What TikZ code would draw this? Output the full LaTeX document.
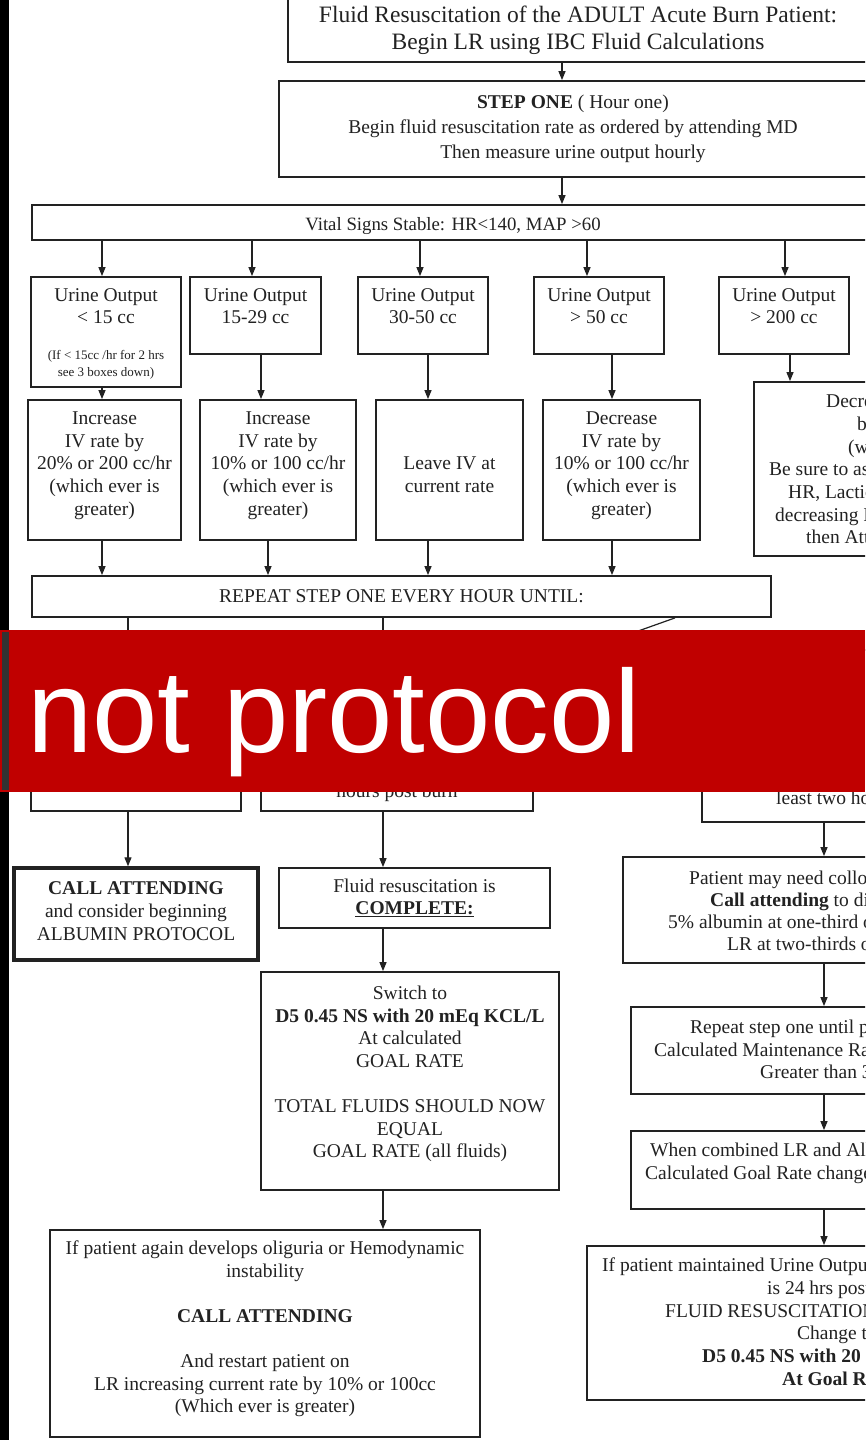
\documentclass[tikz,border=0pt]{standalone}
\usepackage{fontspec}
\setmainfont{Liberation Serif}
\newfontfamily\bannerfont{Liberation Sans}
\usetikzlibrary{arrows.meta,positioning}
\definecolor{bannerred}{HTML}{C00000}
\definecolor{ink}{HTML}{222222}

\tikzset{
  block/.style={draw=ink, line width=1.8pt, align=center, inner sep=2pt, text=ink,
    font=\fontsize{19.5}{22.6}\selectfont},
  thickblock/.style={block, line width=3.4pt},
  flow/.style={draw=ink, line width=1.2pt, -{Triangle[length=9pt,width=7pt]}},
  cut/.style={anchor=base west, inner sep=0pt, text=ink, font=\fontsize{19.5}{22.6}\selectfont},
  note/.style={align=center, inner sep=0pt, text=ink, font=\fontsize{13}{17}\selectfont},
}

\begin{document}
\begin{tikzpicture}[x=1pt, y=-1pt]
\useasboundingbox (0,0) rectangle (865,1440);
\clip (0,0) rectangle (865,1440);
\fill[white] (0,0) rectangle (865,1440);
\fill[black] (0,0) rectangle (9,1440);

% top of the chart
\node[block, minimum width=580pt, minimum height=68pt, text depth=1pt, font=\fontsize{23.5}{27}\selectfont] (title) at (578,28)
  {Fluid Resuscitation of the ADULT Acute Burn Patient:\\Begin LR using IBC Fluid Calculations};
\node[block, minimum width=588pt, minimum height=96pt, font=\fontsize{19.5}{25}\selectfont] (stepone) at (573,129)
  {\textbf{STEP ONE} ( Hour one)\\Begin fluid resuscitation rate as ordered by attending MD\\Then measure urine output hourly};
\node[block, minimum width=842pt, minimum height=35pt, text height=21pt, font=\fontsize{18.8}{22}\selectfont] (vital) at (453,222.5)
  {Vital Signs Stable: HR<140, MAP >60};

% urine output row
\node[block, minimum width=150pt, minimum height=110pt, text depth=52pt] (u1) at (106,332) {Urine Output\\< 15 cc};
\node[note] (u1note) at (106,364.5) {(If < 15cc /hr for 2 hrs\\see 3 boxes down)};
\node[block, minimum width=131pt, minimum height=77pt, text depth=19pt] (u2) at (255.5,315.5) {Urine Output\\15-29 cc};
\node[block, minimum width=130pt, minimum height=77pt, text depth=19pt] (u3) at (423,315.5) {Urine Output\\30-50 cc};
\node[block, minimum width=130pt, minimum height=77pt, text depth=19pt] (u4) at (599,315.5) {Urine Output\\> 50 cc};
\node[block, minimum width=130pt, minimum height=77pt, text depth=19pt] (u5) at (784,315.5) {Urine Output\\> 200 cc};

% rate changes
\node[block, minimum width=153pt, minimum height=140pt, text depth=13pt] (a1) at (104.5,470)
  {Increase\\IV rate by\\20\% or 200 cc/hr\\(which ever is\\greater)};
\node[block, minimum width=156pt, minimum height=140pt, text depth=13pt] (a2) at (278,470)
  {Increase\\IV rate by\\10\% or 100 cc/hr\\(which ever is\\greater)};
\node[block, minimum width=147pt, minimum height=140pt, text height=45pt] (a3) at (449.5,470) {Leave IV at\\current rate};
\node[block, minimum width=157pt, minimum height=140pt, text depth=13pt] (a4) at (621.5,470)
  {Decrease\\IV rate by\\10\% or 100 cc/hr\\(which ever is\\greater)};
\node[block, minimum width=126pt, minimum height=174pt] (a5) at (817,469) {};

\node[block, minimum width=739pt, minimum height=41pt] (repeat) at (401.5,596.5) {REPEAT STEP ONE EVERY HOUR UNTIL:};

% lower part
\node[block, minimum width=210pt, minimum height=161pt] (b1) at (136,730.5) {};
\node[block, minimum width=272pt, minimum height=161pt] (b2) at (397,730.5) {};
\node[anchor=base, inner sep=0pt, text=ink, font=\fontsize{19.5}{22.6}\selectfont] (b2text) at (397,797) {hours post burn};
\node[block, minimum width=178pt, minimum height=172pt] (b3) at (791,736) {};

\node[thickblock, minimum width=244pt, minimum height=92pt, text depth=6pt] (c1) at (136,914)
  {\textbf{CALL ATTENDING}\\and consider beginning\\ALBUMIN PROTOCOL};
\node[block, minimum width=271pt, minimum height=60pt] (c2) at (414.5,898)
  {Fluid resuscitation is\\\underline{\textbf{COMPLETE:}}};
\node[block, minimum width=257pt, minimum height=106pt] (c3) at (751.5,910) {};

\node[block, minimum width=298pt, minimum height=218pt, text depth=18pt] (d2) at (410,1081)
  {Switch to\\\textbf{D5 0.45 NS with 20 mEq KCL/L}\\At calculated\\GOAL RATE\\[22.6pt]TOTAL FLUIDS SHOULD NOW\\EQUAL\\GOAL RATE (all fluids)};
\node[block, minimum width=249pt, minimum height=87pt] (d3) at (755.5,1050.5) {};

\node[block, minimum width=430pt, minimum height=207pt, text depth=13pt] (e2) at (265,1333.5)
  {If patient again develops oliguria or Hemodynamic\\instability\\[22.6pt]\textbf{CALL ATTENDING}\\[22.6pt]And restart patient on\\LR increasing current rate by 10\% or 100cc\\(Which ever is greater)};
\node[block, minimum width=249pt, minimum height=78pt] (e3) at (755.5,1170) {};
\node[block, minimum width=293pt, minimum height=154pt] (f3) at (733.5,1323) {};

% text of the boxes cut by the right edge
\foreach \tx/\ty/\cuttext [count=\i] in {826/407/Decrease, 857/430/by, 848/453/(which,
    769/475/Be sure to assess, 788/498/{HR, Lactic}, 775/521/decreasing IV, 806/543/then Attending,
    776/804/least two hours,
    689/884/Patient may need colloid, 710/906/\textbf{Call attending} to discuss,
    668/928/5\% albumin at one-third of, 727/950/LR at two-thirds of,
    690/1033/Repeat step one until patient, 654/1056/Calculated Maintenance Rate, 760/1078/Greater than 30,
    650/1156/When combined LR and Albumin, 645/1179/Calculated Goal Rate changes,
    602/1271/If patient maintained Urine Output, 767/1294/is 24 hrs post burn, 665/1317/FLUID RESUSCITATION,
    797/1339/Change to, 702/1362/\textbf{D5 0.45 NS with 20 mEq}, 782/1385/\textbf{At Goal Rate}}
  \node[cut] (cut\i) at (\tx,\ty) {\cuttext};

% connectors
\draw[flow] (562,0 |- title.south) -- (562,0 |- stepone.north);
\draw[flow] (562,0 |- stepone.south) -- (562,0 |- vital.north);
\foreach \u/\ax in {u1/102, u2/252, u3/420, u4/587, u5/785}
  \draw[flow] (\ax,0 |- vital.south) -- (\ax,0 |- \u.north);
\foreach \u/\a/\ax in {u1/a1/102, u2/a2/261, u3/a3/428, u4/a4/612, u5/a5/790}
  \draw[flow] (\ax,0 |- \u.south) -- (\ax,0 |- \a.north);
\foreach \a/\ax in {a1/102, a2/268, a3/428, a4/612}
  \draw[flow] (\ax,0 |- \a.south) -- (\ax,0 |- repeat.north);
\draw[flow] (128,0 |- repeat.south) -- (128,0 |- b1.north);
\draw[flow] (383,0 |- repeat.south) -- (383,0 |- b2.north);
\coordinate (hidden) at (627,635);
\draw[ink, line width=1.2pt] (675,0 |- repeat.south) -- (hidden);
\draw[flow] (128,0 |- b1.south) -- (128,0 |- c1.north);
\draw[flow] (383,0 |- b2.south) -- (383,0 |- c2.north);
\draw[flow] (383,0 |- c2.south) -- (383,0 |- d2.north);
\draw[flow] (383,0 |- d2.south) -- (383,0 |- e2.north);
\foreach \p/\q in {b3/c3, c3/d3, d3/e3, e3/f3}
  \draw[flow] (824,0 |- \p.south) -- (824,0 |- \q.north);

% banner
\draw[bannerred, line width=1.5pt, fill=black!80] (0.75,631) rectangle (10,791);
\fill[bannerred] (9,630) rectangle (865,792);
\node[anchor=base west, inner sep=0pt, text=white, font=\bannerfont\fontsize{117.5}{120}\selectfont] (stamp) at (27,752) {not protocol};
\end{tikzpicture}
\end{document}
